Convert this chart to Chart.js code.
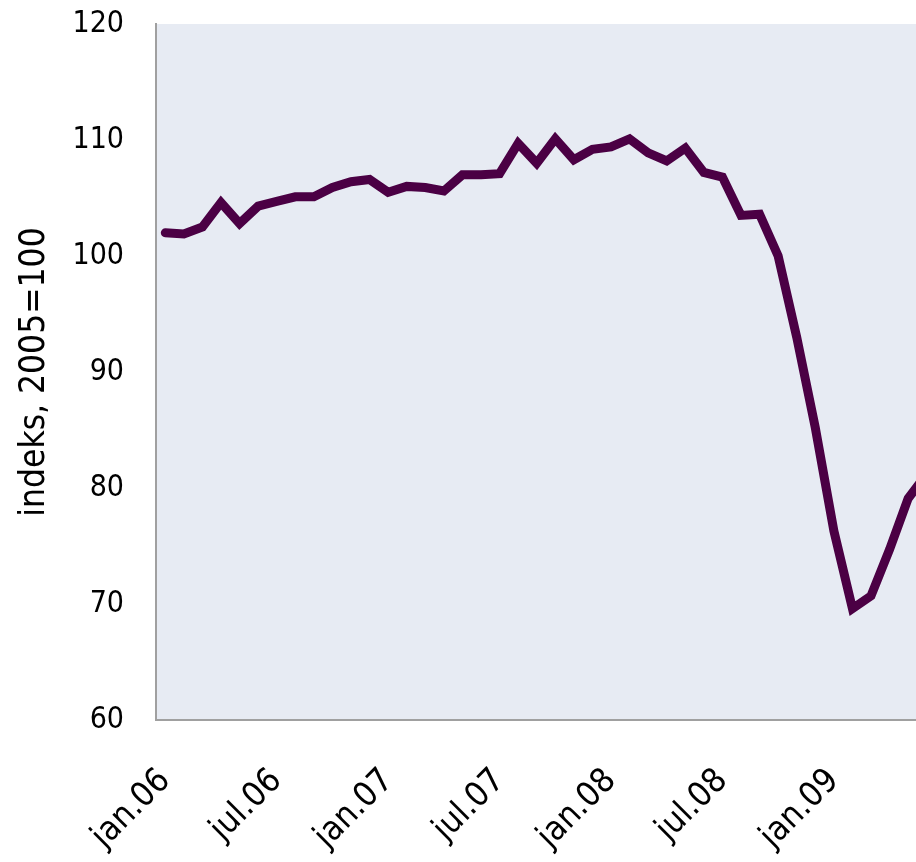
<!DOCTYPE html>
<html>
<head>
<meta charset="utf-8">
<script src="https://cdn.jsdelivr.net/npm/chart.js@4/dist/chart.umd.min.js"></script>
<style>
  html, body { margin: 0; padding: 0; background: #ffffff; overflow: hidden; }
  #wrap { width: 936px; height: 862px; position: relative; }
</style>
</head>
<body>
<div id="wrap"><canvas id="grafico"></canvas></div>
<script>
// ========================
// DADOS
// ========================

const meses = [
  "jan.06", "feb.06", "mar.06", "apr.06", "mai.06", "jun.06",
  "jul.06", "aug.06", "sep.06", "okt.06", "nov.06", "des.06",
  "jan.07", "feb.07", "mar.07", "apr.07", "mai.07", "jun.07",
  "jul.07", "aug.07", "sep.07", "okt.07", "nov.07", "des.07",
  "jan.08", "feb.08", "mar.08", "apr.08", "mai.08", "jun.08",
  "jul.08", "aug.08", "sep.08", "okt.08", "nov.08", "des.08",
  "jan.09", "feb.09", "mar.09", "apr.09", "mai.09", "jun.09",
];

const indeks = [
  102.0, 101.9, 102.5, 104.6, 102.8, 104.3,
  104.7, 105.1, 105.1, 105.9, 106.4, 106.6,
  105.5, 106.0, 105.9, 105.6, 107.0, 107.0,
  107.1, 109.7, 108.0, 110.1, 108.3, 109.2,
  109.4, 110.1, 108.9, 108.2, 109.3, 107.2,
  106.8, 103.5, 103.6, 100.0, 93.0, 85.2,
  76.3, 69.6, 70.7, 74.7, 79.1, 81.2,
];

const yMin = 60;
const yMax = 120;
const yPasso = 10;

const tituloY = "indeks, 2005=100";

// ========================
// FUNDO DA ÁREA DO GRÁFICO
// ========================

const fundoArea = {
  id: "fundoArea",
  beforeDraw(chart) {
    const { ctx, chartArea } = chart;
    ctx.save();
    ctx.fillStyle = "#e7ebf3";
    ctx.fillRect(
      chartArea.left,
      chartArea.top,
      chartArea.right - chartArea.left,
      chartArea.bottom - chartArea.top,
    );
    ctx.restore();
  },
};

// ========================
// GRÁFICO
// ========================

new Chart(document.getElementById("grafico"), {
  type: "line",

  data: {
    labels: meses,

    datasets: [
      {
        data: indeks,
        borderColor: "#4b0044",
        borderWidth: 9,
        borderCapStyle: "round",
        borderJoinStyle: "miter",
        pointRadius: 0,
        tension: 0,
        fill: false,
      },
    ],
  },

  options: {
    responsive: true,
    maintainAspectRatio: false,
    animation: false,
    events: [],

    layout: {
      padding: { top: 24, right: 0, bottom: 0, left: 0 },
    },

    plugins: {
      legend: { display: false },
      tooltip: { enabled: false },
    },

    scales: {
      x: {
        type: "category",
        offset: true,
        grid: { display: false, drawTicks: false },
        border: { display: true, color: "#a0a0a0", width: 2 },
        ticks: {
          autoSkip: false,
          maxRotation: 45,
          minRotation: 45,
          padding: 41,
          color: "#000000",
          font: { family: "DejaVu Sans Condensed", size: 34 },
          callback: (valor, i) => (i % 6 === 0 ? meses[i] : ""),
        },
        afterFit: (escala) => {
          escala.height = 142;
          escala.paddingLeft = 0;
          escala.paddingRight = 0;
        },
      },

      y: {
        min: yMin,
        max: yMax,
        grid: { display: false, drawTicks: false },
        border: { display: true, color: "#a0a0a0", width: 2 },
        ticks: {
          stepSize: yPasso,
          padding: 32,
          color: "#000000",
          font: { family: "DejaVu Sans Condensed", size: 30 },
        },
        title: {
          display: true,
          text: tituloY,
          color: "#000000",
          padding: { top: 14, bottom: 0 },
          font: { family: "DejaVu Sans Condensed", size: 35 },
        },
        afterFit: (escala) => {
          escala.width = 156;
          escala.paddingTop = 0;
          escala.paddingBottom = 0;
        },
      },
    },
  },

  plugins: [fundoArea],
});
</script>
</body>
</html>
